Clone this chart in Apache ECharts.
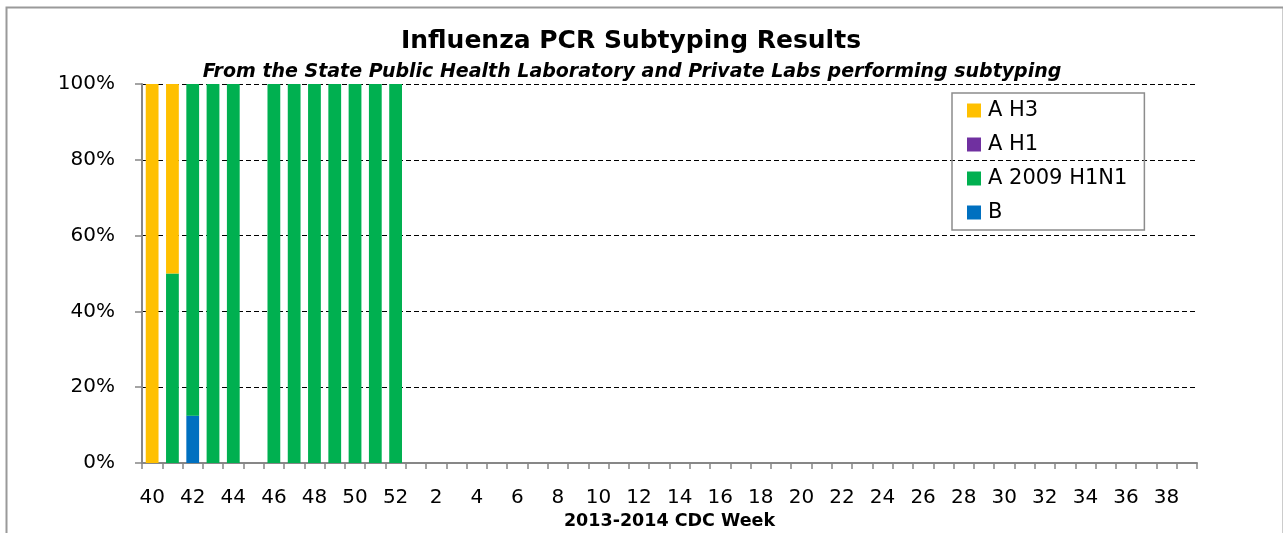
<!DOCTYPE html>
<html>
<head>
<meta charset="utf-8">
<script src="https://cdn.jsdelivr.net/npm/echarts@6/dist/echarts.min.js"></script>
<style>
html,body{margin:0;padding:0;background:#fff;}
#chart{width:1283px;height:533px;}
</style>
</head>
<body>
<div id="chart"></div>
<script>
// Weeks 40..52 of 2013, then 1..39 of 2014
const weeks = [40,41,42,43,44,45,46,47,48,49,50,51,52,
  1,2,3,4,5,6,7,8,9,10,11,12,13,14,15,16,17,18,19,20,21,22,23,24,25,26,27,28,29,30,31,32,33,34,35,36,37,38,39];
const categories = weeks.map(String);
// Share of subtyped specimens (fraction), one entry per week
const valuesAH3 =    [1, 0.5, 0,     0, 0, null, 0, 0, 0, 0, 0, 0, 0];
const valuesAH1 =    [0, 0,   0,     0, 0, null, 0, 0, 0, 0, 0, 0, 0];
const valuesH1N1 =   [0, 0.5, 0.875, 1, 1, null, 1, 1, 1, 1, 1, 1, 1];
const valuesB =      [0, 0,   0.125, 0, 0, null, 0, 0, 0, 0, 0, 0, 0];
const yTicks = [0, 0.2, 0.4, 0.6, 0.8, 1.0];

const seriesNames = ['A H3', 'A H1', 'A 2009 H1N1', 'B'];
const colors = {'A H3':'#FFC000','A H1':'#7030A0','A 2009 H1N1':'#00B050','B':'#0070C0'};

const font = 'DejaVu Sans';
const chart = echarts.init(document.getElementById('chart'), null, {renderer:'canvas'});

function mk(name, data){
  return {
    name: name, type: 'bar', stack: 'total', data: data,
    barCategoryGap: '37%',
    itemStyle: {color: colors[name]},
    emphasis: {disabled: true}
  };
}

chart.setOption({
  animation: false,
  backgroundColor: '#fff',
  graphic: [{
    type: 'rect', left: 4, top: 5, z: -1,
    shape: {x: 0, y: 0, width: 1277, height: 560},
    style: {fill: 'none', stroke: '#9a9a9a', lineWidth: 2}
  }],
  title: [{
    text: 'Influenza PCR Subtyping Results',
    left: 631, top: 29, textAlign: 'center', padding: 0,
    textStyle: {fontFamily: font, fontWeight: 'bold', fontSize: 25, color: '#000'}
  },{
    text: 'From the State Public Health Laboratory and Private Labs performing subtyping',
    left: 632, top: 63, textAlign: 'center', padding: 0,
    textStyle: {fontFamily: font, fontWeight: 'bold', fontStyle: 'italic', fontSize: 19, color: '#000'}
  }],
  legend: {
    orient: 'vertical',
    left: 952, top: 93,
    data: seriesNames,
    itemWidth: 14, itemHeight: 14, itemGap: 13,
    padding: [7, 17, 7, 15],
    borderColor: '#8c8c8c', borderWidth: 1.5,
    icon: 'rect',
    textStyle: {fontFamily: font, fontSize: 21, color: '#000', padding: [0,0,0,2]}
  },
  grid: {left: 142, right: 86, top: 84, bottom: 70, containLabel: false, outerBoundsMode: 'none'},
  xAxis: {
    type: 'category',
    data: categories,
    boundaryGap: true,
    name: '2013-2014 CDC Week',
    nameLocation: 'middle',
    nameGap: 49,
    nameTextStyle: {fontFamily: font, fontWeight: 'bold', fontSize: 17.5, color: '#000'},
    axisLine: {lineStyle: {color: '#878787', width: 2}},
    axisTick: {show: true, length: 6, interval: 0, alignWithLabel: false, lineStyle: {color: '#878787', width: 1.5}},
    axisLabel: {interval: 1, margin: 25, fontFamily: font, fontSize: 20, color: '#000'},
    splitLine: {show: false}
  },
  yAxis: {
    type: 'value',
    min: 0, max: 1, interval: 0.2,
    axisLine: {show: true, lineStyle: {color: '#878787', width: 2}},
    axisTick: {show: true, length: 7, inside: false, lineStyle: {color: '#878787', width: 1.5}},
    axisLabel: {
      margin: 27, fontFamily: font, fontSize: 20, color: '#000',
      formatter: function(v){ return Math.round(v*100) + '%'; }
    },
    splitLine: {show: true, lineStyle: {color: '#000', type: [5, 3], width: 1}}
  },
  series: [
    mk('B', valuesB),
    mk('A 2009 H1N1', valuesH1N1),
    mk('A H1', valuesAH1),
    mk('A H3', valuesAH3)
  ]
});
</script>
</body>
</html>
